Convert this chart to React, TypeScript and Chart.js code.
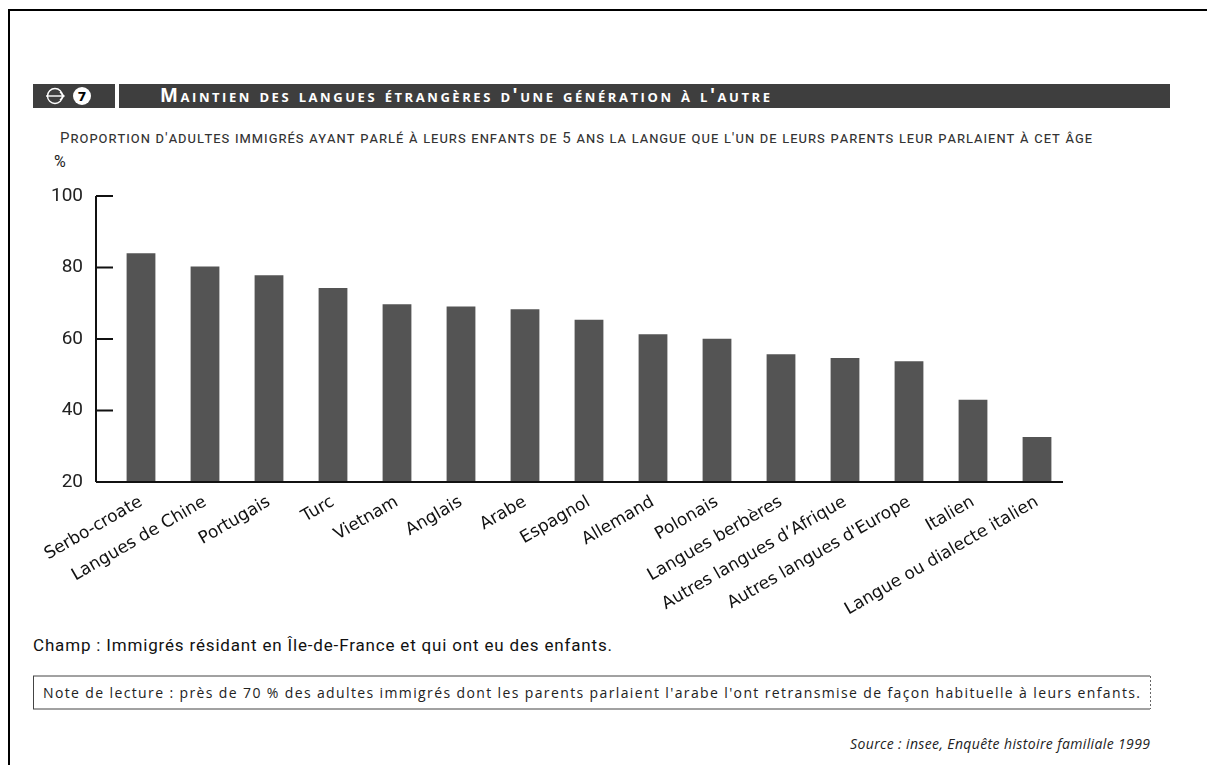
import React, { useEffect, useRef } from "react";
import { Chart, registerables } from "chart.js";

Chart.register(...registerables);

const categories: string[] = [
  "Serbo-croate",
  "Langues de Chine",
  "Portugais",
  "Turc",
  "Vietnam",
  "Anglais",
  "Arabe",
  "Espagnol",
  "Allemand",
  "Polonais",
  "Langues berbères",
  "Autres langues d’Afrique",
  "Autres langues d'Europe",
  "Italien",
  "Langue ou dialecte italien",
];

const values: number[] = [84, 80.3, 77.8, 74.3, 69.7, 69.1, 68.3, 65.4, 61.3, 60.1, 55.7, 54.7, 53.8, 43.0, 32.6];

const yTicks: number[] = [20, 40, 60, 80, 100];

const titleText = "Maintien des langues étrangères d'une génération à l'autre";
const subtitleText =
  "Proportion d'adultes immigrés ayant parlé à leurs enfants de 5 ans la langue que l'un de leurs parents leur parlaient à cet âge";
const champText = "Champ : Immigrés résidant en Île-de-France et qui ont eu des enfants.";
const noteText =
  "Note de lecture : près de 70 % des adultes immigrés dont les parents parlaient l'arabe l'ont retransmise de façon habituelle à leurs enfants.";
const sourceText = "Source : insee, Enquête histoire familiale 1999";

const axesPlugin = {
  id: "customAxes",
  afterDatasetsDraw(chart: any) {
    const { ctx, chartArea, scales } = chart;
    const ys = scales.y;
    const x0 = chartArea.left - 13;
    const yMin = ys.getPixelForValue(yTicks[0]);
    const yMax = ys.getPixelForValue(yTicks[yTicks.length - 1]);
    ctx.save();
    ctx.strokeStyle = "#111";
    ctx.lineWidth = 2;
    ctx.beginPath();
    ctx.moveTo(x0, yMax);
    ctx.lineTo(x0, yMin);
    ctx.moveTo(x0, yMin);
    ctx.lineTo(chartArea.right - 6, yMin);
    yTicks.forEach((v) => {
      if (v === yTicks[0]) return;
      const py = ys.getPixelForValue(v);
      ctx.moveTo(x0, py);
      ctx.lineTo(x0 + 17, py);
    });
    ctx.stroke();
    ctx.restore();
  },
};

function BarChart() {
  const ref = useRef<HTMLCanvasElement | null>(null);
  useEffect(() => {
    if (!ref.current) return;
    const chart = new Chart(ref.current, {
      type: "bar",
      data: {
        labels: categories,
        datasets: [
          {
            data: values,
            backgroundColor: "#545454",
            borderWidth: 0,
            categoryPercentage: 1,
            barPercentage: 0.45,
          },
        ],
      },
      options: {
        animation: false,
        responsive: false,
        devicePixelRatio: 1,
        layout: { padding: { top: 46, right: 31, left: 0, bottom: 0 } },
        plugins: {
          legend: { display: false },
          tooltip: { enabled: false },
          title: { display: false },
        },
        scales: {
          x: {
            offset: true,
            grid: { display: false, drawTicks: false },
            border: { display: false },
            ticks: {
              autoSkip: false,
              minRotation: 30,
              maxRotation: 30,
              padding: 10,
              labelOffset: 0,
              color: "#111",
              font: { family: "DejaVu Sans", size: 17 },
            },
            afterFit: (s: any) => {
              s.height = 148;
            },
          },
          y: {
            min: 20,
            max: 100,
            grid: { display: false, drawTicks: false },
            border: { display: false },
            ticks: {
              stepSize: 20,
              padding: 26,
              color: "#222",
              font: { family: "Roboto", size: 19 },
            },
            afterFit: (s: any) => {
              s.width = 109;
            },
          },
        },
      },
      plugins: [axesPlugin],
    });
    return () => chart.destroy();
  }, []);
  return (
    <canvas
      ref={ref}
      width={1100}
      height={480}
      style={{ position: "absolute", left: 0, top: 150, width: 1100, height: 480 }}
    />
  );
}

export default function App() {
  useEffect(() => {
    document.body.style.margin = "0";
  }, []);
  return (
    <div style={{ position: "relative", width: 1207, height: 765, background: "#fff", overflow: "hidden" }}>
      <svg width={1207} height={765} style={{ position: "absolute", left: 0, top: 0 }}>
        <line x1={8} y1={10} x2={1207} y2={10} stroke="#000" strokeWidth={2} />
        <line x1={9} y1={10} x2={9} y2={765} stroke="#000" strokeWidth={2} />
        <rect x={33} y={84} width={82} height={24} fill="#3e3e3e" />
        <rect x={119} y={84} width={1051} height={24} fill="#3e3e3e" />
        <circle cx={55} cy={96} r={7.5} fill="none" stroke="#fff" strokeWidth={1.4} />
        <line x1={46} y1={96} x2={64} y2={96} stroke="#fff" strokeWidth={1.4} />
        <polyline points="60,92 64,96 60,100" fill="none" stroke="#fff" strokeWidth={1.4} />
        <circle cx={82} cy={96} r={9} fill="#fff" />
        <text x={82} y={101} textAnchor="middle" fontFamily="DejaVu Sans" fontWeight="bold" fontSize={13} fill="#000">
          7
        </text>
        <text
          x={160}
          y={102}
          fontFamily="Open Sans"
          fontWeight="bold"
          fontSize={19}
          fill="#fff"
          textLength={610}
          lengthAdjust="spacing"
          style={{ fontVariant: "small-caps" }}
        >
          {titleText}
        </text>
        <text
          x={60}
          y={143}
          fontFamily="Roboto"
          fontWeight={400}
          fontSize={15}
          fill="#333"
          textLength={1032}
          lengthAdjust="spacing"
          style={{ fontVariant: "small-caps" }}
        >
          {subtitleText}
        </text>
        <text x={54} y={167} fontFamily="Roboto" fontSize={16} fill="#222">
          %
        </text>
        <text x={33} y={651} fontFamily="Roboto" fontSize={17} fill="#111" textLength={579} lengthAdjust="spacing">
          {champText}
        </text>
        <line x1={33} y1={676} x2={1150} y2={676} stroke="#444" strokeWidth={1} />
        <line x1={33} y1={709} x2={1150} y2={709} stroke="#444" strokeWidth={1} />
        <line x1={33.5} y1={676} x2={33.5} y2={709} stroke="#444" strokeWidth={1} />
        <line x1={1150.5} y1={676} x2={1150.5} y2={709} stroke="#666" strokeWidth={1} strokeDasharray="2 2" />
        <text x={43} y={698} fontFamily="Open Sans" fontSize={14} fill="#222" textLength={1097} lengthAdjust="spacing">
          {noteText}
        </text>
        <text
          x={1150}
          y={749}
          textAnchor="end"
          fontFamily="Open Sans"
          fontStyle="italic"
          fontSize={14}
          fill="#222"
          textLength={300}
          lengthAdjust="spacing"
        >
          {sourceText}
        </text>
      </svg>
      <BarChart />
    </div>
  );
}
